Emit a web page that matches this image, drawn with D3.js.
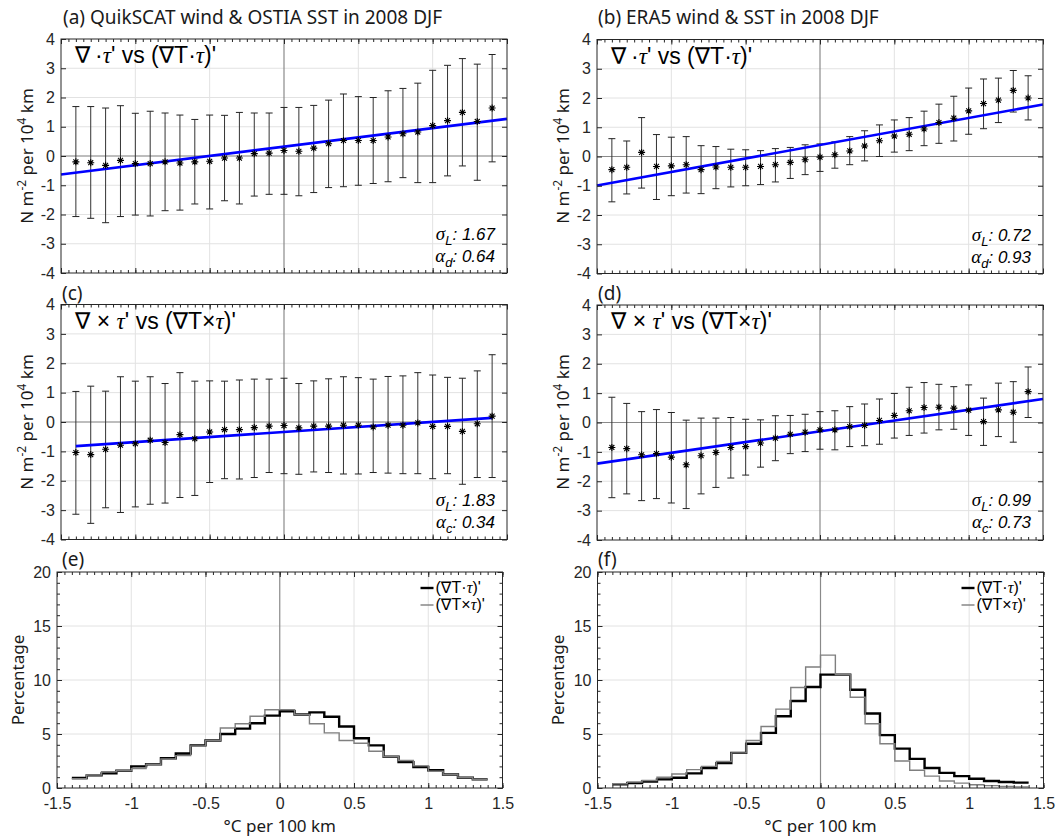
<!doctype html>
<html lang="en">
<head>
<meta charset="utf-8">
<script src="https://cdn.jsdelivr.net/npm/d3@7"></script>
<style>
  body {margin:0; background:#fff}
  svg {display:block}
  .tk text {font-family:"Liberation Sans", Arial, sans-serif; font-size:16px; fill:#262626}
  .tk line {stroke:#262626}
  .lbl {font-family:"Noto Sans", sans-serif; fill:#1a1a1a}
</style>
<title>Wind stress divergence / curl vs SST gradient</title>
</head>
<body>
<script>
// bin centres (also histogram edges)
const binX = [-1.4,-1.3,-1.2,-1.1,-1.0,-0.9,-0.8,-0.7,-0.6,-0.5,-0.4,-0.3,-0.2,-0.1,0,0.1,0.2,0.3,0.4,0.5,0.6,0.7,0.8,0.9,1.0,1.1,1.2,1.3,1.4];

// (a) QuikSCAT / OSTIA, divergence
const aMean = [-0.2,-0.23,-0.32,-0.15,-0.26,-0.26,-0.2,-0.24,-0.2,-0.18,-0.07,-0.07,0.08,0.1,0.19,0.16,0.27,0.42,0.53,0.53,0.53,0.65,0.76,0.82,1.04,1.21,1.49,1.18,1.64];
const aHigh = [1.69,1.69,1.64,1.72,1.46,1.53,1.47,1.40,1.25,1.40,1.39,1.49,1.47,1.47,1.66,1.66,1.73,1.91,2.12,2.03,2.0,2.23,2.31,2.49,2.93,3.1,3.33,3.14,3.47];
const aLow  = [-2.07,-2.13,-2.28,-2.07,-2.02,-2.05,-1.87,-1.85,-1.64,-1.81,-1.53,-1.64,-1.37,-1.31,-1.31,-1.36,-1.25,-1.08,-1.05,-1.0,-0.94,-0.88,-0.74,-0.91,-0.91,-0.68,-0.34,-0.83,-0.2];
const aFitX = [-1.5, 1.5], aFitY = [-0.63, 1.27];

// (b) ERA5, divergence
const bMean = [-0.45,-0.37,0.14,-0.34,-0.32,-0.28,-0.45,-0.36,-0.37,-0.37,-0.34,-0.28,-0.2,-0.11,-0.02,0.06,0.19,0.36,0.54,0.70,0.76,0.94,1.16,1.31,1.56,1.81,1.93,2.26,2.0];
const bHigh = [0.61,0.53,1.33,0.75,0.66,0.68,0.37,0.34,0.25,0.23,0.2,0.27,0.31,0.4,0.43,0.5,0.68,0.88,1.08,1.25,1.33,1.55,1.79,2.06,2.34,2.65,2.68,2.94,2.76];
const bLow  = [-1.55,-1.28,-1.08,-1.47,-1.34,-1.25,-1.27,-1.10,-1.04,-1.0,-0.96,-0.87,-0.75,-0.62,-0.51,-0.4,-0.28,-0.15,0.0,0.15,0.2,0.37,0.45,0.53,0.76,0.95,1.16,1.52,1.25];
const bFitX = [-1.5, 1.5], bFitY = [-0.99, 1.78];

// (c) QuikSCAT / OSTIA, curl
const cMean = [-1.04,-1.11,-0.93,-0.79,-0.74,-0.62,-0.70,-0.43,-0.57,-0.34,-0.26,-0.26,-0.19,-0.14,-0.12,-0.2,-0.14,-0.14,-0.11,-0.11,-0.17,-0.11,-0.11,-0.03,-0.15,-0.15,-0.32,-0.06,0.2];
const cHigh = [1.04,1.22,1.05,1.54,1.39,1.54,1.31,1.68,1.39,1.40,1.39,1.43,1.46,1.46,1.49,1.31,1.40,1.47,1.54,1.51,1.46,1.55,1.57,1.68,1.6,1.52,1.49,1.74,2.29];
const cLow  = [-3.14,-3.45,-2.92,-3.08,-2.89,-2.8,-2.76,-2.57,-2.5,-2.06,-1.93,-1.94,-1.89,-1.72,-1.76,-1.78,-1.7,-1.72,-1.77,-1.77,-1.72,-1.74,-1.76,-1.76,-1.93,-1.76,-2.12,-1.89,-1.89];
const cFitX = [-1.4, 1.4], cFitY = [-0.82, 0.14];

// (d) ERA5, curl
const dMean = [-0.85,-0.89,-1.10,-1.06,-1.18,-1.44,-1.13,-1.02,-0.85,-0.82,-0.70,-0.53,-0.40,-0.33,-0.25,-0.25,-0.14,-0.10,0.07,0.24,0.40,0.51,0.52,0.49,0.42,0.03,0.43,0.35,1.05];
const dHigh = [0.86,0.65,0.37,0.44,0.34,0.08,0.15,0.15,0.17,0.11,0.09,0.23,0.24,0.28,0.37,0.40,0.54,0.63,0.80,0.99,1.2,1.36,1.30,1.22,1.28,0.83,1.34,1.39,1.89];
const dLow  = [-2.56,-2.43,-2.66,-2.59,-2.74,-2.93,-2.43,-2.21,-1.89,-1.79,-1.52,-1.30,-1.06,-0.99,-0.91,-0.93,-0.82,-0.79,-0.74,-0.53,-0.44,-0.36,-0.25,-0.23,-0.44,-0.78,-0.48,-0.67,0.17];
const dFitX = [-1.5, 1.5], dFitY = [-1.40, 0.80];

// histograms (percentage per 0.1 bin, left edge = binX[i])
const eDot   = [0.93,1.17,1.35,1.6,2.0,2.2,2.75,3.2,3.95,4.4,5.0,5.5,6.0,6.7,7.1,6.8,7.0,6.6,5.7,4.6,3.95,2.9,2.4,1.95,1.65,1.25,0.95,0.8];
const eCross = [0.85,1.2,1.5,1.6,1.8,2.2,2.7,3.0,3.9,4.4,5.55,5.95,6.65,7.25,7.25,6.8,5.95,5.1,4.4,4.15,3.4,2.9,2.55,2.05,1.55,1.25,0.95,0.8];
const fDot   = [0.35,0.45,0.6,0.8,0.95,1.35,1.85,2.3,3.25,4.1,5.1,6.65,8.05,9.35,10.5,10.5,9.1,6.9,4.9,3.65,2.7,1.85,1.4,1.1,0.85,0.65,0.55,0.5];
const fCross = [0.4,0.55,0.7,1.0,1.3,1.7,2.0,2.45,3.25,4.4,5.7,7.3,9.3,11.2,12.3,10.5,8.4,5.95,4.1,2.5,1.65,1.1,0.65,0.45,0.3,0.22,0.15,0.1];

const xTicks = [-1.5,-1,-0.5,0,0.5,1,1.5];
const scatTicks = [-4,-3,-2,-1,0,1,2,3,4];
const histTicks = [0,5,10,15,20];

const sans = '"Liberation Sans", Arial, "DejaVu Sans", sans-serif';
const serif = '"Liberation Serif", "Times New Roman", serif';

const svg = d3.select("body").append("svg").attr("width",1060).attr("height",836);

function panel(box, yDom, yTicks, yMinor, xLabels, hZero) {
  const x = d3.scaleLinear().domain([-1.5,1.5]).range([box.l, box.r]);
  const y = d3.scaleLinear().domain(yDom).range([box.b, box.t]);
  const g = svg.append("g");
  // grid
  g.selectAll(null).data(xTicks.filter(d => d!==0 && Math.abs(d)<1.5)).join("line")
    .attr("x1",d=>x(d)).attr("x2",d=>x(d)).attr("y1",box.t).attr("y2",box.b)
    .attr("stroke","#e2e2e2");
  g.selectAll(null).data(yTicks.slice(1,-1)).join("line")
    .attr("y1",d=>y(d)).attr("y2",d=>y(d)).attr("x1",box.l).attr("x2",box.r)
    .attr("stroke","#e2e2e2");
  // zero lines
  g.append("line").attr("x1",x(0)).attr("x2",x(0)).attr("y1",box.t).attr("y2",box.b)
    .attr("stroke","#8a8a8a").attr("stroke-width",1.2);
  if (hZero) g.append("line").attr("x1",box.l).attr("x2",box.r).attr("y1",y(0)).attr("y2",y(0))
    .attr("stroke","#8a8a8a").attr("stroke-width",1.2);
  const data = svg.append("g");
  const top = svg.append("g");
  top.append("rect").attr("x",box.l).attr("y",box.t).attr("width",box.r-box.l).attr("height",box.b-box.t)
    .attr("fill","none").attr("stroke","#262626");
  const fmt = d => String(d);
  const xMinor = d3.range(-1.5, 1.5001, 0.05);
  const clean = a => a.select(".domain").remove();
  top.append("g").attr("class","tk").attr("transform",`translate(${box.l},0)`)
    .call(d3.axisLeft(y).tickValues(yTicks).tickSize(-5).tickSizeOuter(0).tickPadding(6).tickFormat(fmt)).call(clean);
  top.append("g").attr("class","tk").attr("transform",`translate(${box.r},0)`)
    .call(d3.axisRight(y).tickValues(yTicks).tickSize(-5).tickSizeOuter(0).tickFormat("")).call(clean);
  top.append("g").attr("class","tk").attr("transform",`translate(0,${box.b})`)
    .call(d3.axisBottom(x).tickValues(xTicks).tickSize(-5).tickSizeOuter(0).tickPadding(10).tickFormat(xLabels ? fmt : "")).call(clean);
  top.append("g").attr("class","tk").attr("transform",`translate(0,${box.t})`)
    .call(d3.axisTop(x).tickValues(xTicks).tickSize(-5).tickSizeOuter(0).tickFormat("")).call(clean);
  top.append("g").attr("class","tk").attr("transform",`translate(0,${box.b})`)
    .call(d3.axisBottom(x).tickValues(xMinor).tickSize(-3).tickSizeOuter(0).tickFormat("")).call(clean);
  top.append("g").attr("class","tk").attr("transform",`translate(0,${box.t})`)
    .call(d3.axisTop(x).tickValues(xMinor).tickSize(-3).tickSizeOuter(0).tickFormat("")).call(clean);
  if (yMinor) {
    const ym = d3.range(yDom[0], yDom[1]+0.001, yMinor);
    top.append("g").attr("class","tk").attr("transform",`translate(${box.l},0)`)
      .call(d3.axisLeft(y).tickValues(ym).tickSize(-3).tickSizeOuter(0).tickFormat("")).call(clean);
    top.append("g").attr("class","tk").attr("transform",`translate(${box.r},0)`)
      .call(d3.axisRight(y).tickValues(ym).tickSize(-3).tickSizeOuter(0).tickFormat("")).call(clean);
  }
  return {x, y, data, top, box};
}

function asterisk(r) {
  const d = r*0.7071;
  return `M0,${-r}V${r}M${-r},0H${r}M${-d},${-d}L${d},${d}M${-d},${d}L${d},${-d}`;
}

function errPanel(p, mean, hi, lo, fitX, fitY) {
  const {x, y, data} = p;
  data.selectAll(null).data(binX).join("line")
    .attr("x1",d=>x(d)).attr("x2",d=>x(d))
    .attr("y1",(d,i)=>y(hi[i])).attr("y2",(d,i)=>y(lo[i]))
    .attr("stroke","#333").attr("stroke-width",1);
  [hi, lo].forEach(arr => {
    data.selectAll(null).data(binX).join("line")
      .attr("x1",d=>x(d)-3.5).attr("x2",d=>x(d)+3.5)
      .attr("y1",(d,i)=>y(arr[i])).attr("y2",(d,i)=>y(arr[i]))
      .attr("stroke","#222").attr("stroke-width",1);
  });
  data.append("line")
    .attr("x1",x(fitX[0])).attr("x2",x(fitX[1])).attr("y1",y(fitY[0])).attr("y2",y(fitY[1]))
    .attr("stroke","#0000ff").attr("stroke-width",2.6);
  data.selectAll(null).data(binX).join("path")
    .attr("transform",(d,i)=>`translate(${x(d)},${y(mean[i])})`)
    .attr("d",asterisk(3.5)).attr("stroke","#000").attr("stroke-width",1.1).attr("fill","none");
}

function histPanel(p, dot, cross) {
  const {x, y, data} = p;
  const line = d3.line().x(d=>x(d[0])).y(d=>y(d[1])).curve(d3.curveStepAfter);
  const pts = v => binX.map((b,i) => [b, v[Math.min(i, v.length-1)]]);
  data.append("path").attr("d",line(pts(dot))).attr("fill","none").attr("stroke","#000").attr("stroke-width",2.4);
  data.append("path").attr("d",line(pts(cross))).attr("fill","none").attr("stroke","#7f7f7f").attr("stroke-width",1.4);
}

function vsLabel(p, op) {
  const t = p.top.append("text").attr("x",p.box.l+14).attr("y",p.box.t+24)
    .attr("font-size",23).attr("font-family",sans).attr("fill","#000");
  const parts = op === "dot"
    ? [["∇\u2009·",0],["τ",1],["' vs (∇T·",0],["τ",1],[")'",0]]
    : [["∇ × ",0],["τ",1],["' vs (∇T×",0],["τ",1],[")'",0]];
  parts.forEach(([s, it]) => {
    const ts = t.append("tspan").text(s);
    if (it) ts.attr("font-family",serif).attr("font-style","italic");
  });
}

function stats(p, sigma, alphaSub, alpha) {
  const rows = [["σ","L",sigma],["α",alphaSub,alpha]];
  rows.forEach((r, k) => {
    const t = p.top.append("text").attr("x",p.box.r-12).attr("y",p.box.t+201+k*22)
      .attr("text-anchor","end").attr("font-family",sans).attr("font-style","italic")
      .attr("font-size",17).attr("fill","#000");
    t.append("tspan").text(r[0]).attr("font-family",serif).attr("font-size",19);
    t.append("tspan").text(r[1]).attr("font-size",13).attr("dy",5);
    t.append("tspan").text(": " + r[2]).attr("dy",-5);
  });
}

function legend(p) {
  const lx = p.box.r - 82, items = [["#000",2.4,"·"],["#7f7f7f",1.4,"×"]];
  items.forEach(([c,w,op],k) => {
    const yy = p.box.t + 16 + k*17;
    p.top.append("line").attr("x1",lx).attr("x2",lx+13).attr("y1",yy).attr("y2",yy)
      .attr("stroke",c).attr("stroke-width",w);
    const t = p.top.append("text").attr("x",lx+15).attr("y",yy+5)
      .attr("font-family",sans).attr("font-size",16).attr("fill","#000");
    t.append("tspan").text("(∇T" + op);
    t.append("tspan").text("τ").attr("font-family",serif).attr("font-style","italic");
    t.append("tspan").text(")'");
  });
}

function yLabel(cx, cy, kind) {
  const t = svg.append("text").attr("class","lbl").attr("transform",`translate(${cx},${cy}) rotate(-90)`)
    .attr("text-anchor","middle").attr("font-size",17);
  if (kind === "pct") { t.text("Percentage"); return; }
  t.append("tspan").text("N m");
  t.append("tspan").text("-2").attr("font-size",12).attr("dy",-7);
  t.append("tspan").text(" per 10").attr("dy",7);
  t.append("tspan").text("4").attr("font-size",12).attr("dy",-7);
  t.append("tspan").text(" km").attr("dy",7);
}

function title(x, y, s, size) {
  svg.append("text").attr("class","lbl").attr("x",x).attr("y",y).attr("font-size",size).text(s);
}

// panels
const pa = panel({l:61, r:507, t:39, b:273}, [-4,4], scatTicks, 0, false, true);
const pb = panel({l:597, r:1043, t:39.5, b:273.5}, [-4,4], scatTicks, 0, false, true);
const pc = panel({l:61, r:507, t:304.5, b:539.5}, [-4,4], scatTicks, 0, false, true);
const pd = panel({l:597, r:1043, t:305, b:540}, [-4,4], scatTicks, 0, false, true);
const pe = panel({l:57, r:502.5, t:572, b:788}, [0,20], histTicks, 1, true, false);
const pf = panel({l:597.5, r:1043.5, t:572, b:788}, [0,20], histTicks, 1, true, false);

errPanel(pa, aMean, aHigh, aLow, aFitX, aFitY);
errPanel(pb, bMean, bHigh, bLow, bFitX, bFitY);
errPanel(pc, cMean, cHigh, cLow, cFitX, cFitY);
errPanel(pd, dMean, dHigh, dLow, dFitX, dFitY);
histPanel(pe, eDot, eCross);
histPanel(pf, fDot, fCross);

vsLabel(pa, "dot"); vsLabel(pb, "dot");
vsLabel(pc, "cross"); vsLabel(pd, "cross");
stats(pa, "1.67", "d", "0.64");
stats(pb, "0.72", "d", "0.93");
stats(pc, "1.83", "c", "0.34");
stats(pd, "0.99", "c", "0.73");
legend(pe); legend(pf);

title(63, 24, "(a) QuikSCAT wind & OSTIA SST in 2008 DJF", 19);
title(598, 24, "(b) ERA5 wind & SST in 2008 DJF", 19);
title(62, 300, "(c)", 19); title(598, 300, "(d)", 19);
title(62, 566, "(e)", 19); title(598, 566, "(f)", 19);

yLabel(33, 156, "n"); yLabel(569, 156, "n");
yLabel(33, 422, "n"); yLabel(569, 422, "n");
yLabel(24, 680, "pct"); yLabel(564, 680, "pct");

[pe, pf].forEach(p => {
  svg.append("text").attr("class","lbl").attr("x",(p.box.l+p.box.r)/2).attr("y",832)
    .attr("text-anchor","middle").attr("font-size",17).text("°C per 100 km");
});
</script>
</body>
</html>
